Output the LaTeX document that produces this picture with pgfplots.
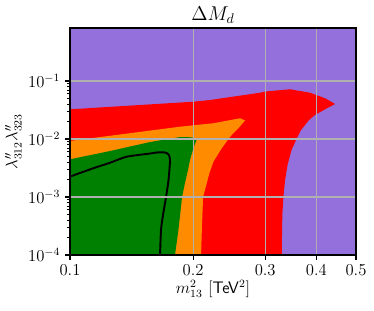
\documentclass[border=0pt]{standalone}
\usepackage{pgfplots}
\pgfplotsset{compat=1.18}
\definecolor{mpurple}{RGB}{147,112,219}
\definecolor{dorange}{RGB}{255,140,0}
\definecolor{mgreen}{RGB}{0,128,0}
\definecolor{mred}{RGB}{255,0,0}
\definecolor{gridgray}{RGB}{176,176,176}
\begin{document}
\begin{tikzpicture}[x=0.72pt,y=0.72pt]
\useasboundingbox (-70,-55) rectangle (304,255);
\begin{axis}[
 at={(0,0)}, anchor=south west,
 scale only axis, width=205.92pt, height=163.44pt,
 xmode=log, ymode=log,
 xmin=0.1, xmax=0.5, ymin=1e-4, ymax=0.82,
 axis on top,
 axis line style={line width=0.8pt},
 xtick={0.1,0.2,0.3,0.4,0.5},
 xticklabels={$0.1$,$0.2$,$0.3$,$0.4$,$0.5$},
 minor xtick={},
 ytick={1e-4,1e-3,1e-2,1e-1},
 tick pos=left, tick align=outside,
 major tick length=3.5pt, minor tick length=2pt,
 every tick/.style={black, line width=0.8pt},
 minor tick style={black, line width=0.6pt},
 grid=major,
 major grid style={gridgray, line width=0.8pt},
 tick label style={font=\fontsize{12}{14}\selectfont},
 every axis title/.style={at={(axis description cs:0.5,1)}, anchor=base, yshift=5.3pt, font=\fontsize{14.5}{17}\selectfont},
 every axis x label/.style={at={(axis description cs:0.5,-0.15)}, anchor=center, font=\fontsize{12}{14}\selectfont},
 every axis y label/.style={at={(axis description cs:-0.198,0.5)}, rotate=90, anchor=center, font=\fontsize{12}{14}\selectfont},
 title={$\Delta M_d$},
 xlabel={$m_{13}^2$ [\textsf{TeV}$^2$]},
 ylabel={$\lambda''_{312}\lambda''_{323}$},
]
\addplot[fill=mpurple, draw=none] coordinates {(0.1,1e-4) (0.5,1e-4) (0.5,0.82) (0.1,0.82)} -- cycle;
\addplot[fill=mred, draw=none] coordinates {
 (0.1,1e-4) (0.1,0.0325) (0.1998,0.0439) (0.2199,0.0470) (0.2914,0.0628) (0.2999,0.0659)
 (0.3451,0.0720) (0.3862,0.0628) (0.4202,0.0504) (0.4445,0.0401) (0.4242,0.0338)
 (0.3972,0.0260) (0.384,0.0213) (0.3671,0.0143) (0.3569,0.00962) (0.3479,0.00646)
 (0.3402,0.00357) (0.3355,0.00196) (0.3323,0.001) (0.3305,0.00053) (0.3298,0.00027) (0.3294,1e-4)} -- cycle;
\addplot[fill=dorange, draw=none] coordinates {
 (0.1,1e-4) (0.1,0.00925) (0.1857,0.0163) (0.2241,0.0187) (0.2604,0.0228) (0.2679,0.0209)
 (0.2579,0.0153) (0.2462,0.01097) (0.2349,0.00692) (0.2241,0.00406) (0.2191,0.00257)
 (0.2115,0.001) (0.2102,0.000329) (0.2091,1e-4)} -- cycle;
\addplot[fill=mgreen, draw=none] coordinates {
 (0.1,1e-4) (0.1,0.00447) (0.1253,0.00621) (0.1569,0.00887) (0.1857,0.0108) (0.1987,0.0107)
 (0.2039,0.00962) (0.2002,0.00692) (0.1965,0.00435) (0.1943,0.00292) (0.191,0.00174)
 (0.1879,0.001) (0.1841,0.00027) (0.1806,1e-4)} -- cycle;
\addplot[black, line width=1.4pt, line join=round, smooth, tension=0.4] coordinates {
 (0.1,0.00225) (0.114,0.00313) (0.1253,0.0039) (0.1376,0.00495) (0.1569,0.00562)
 (0.1644,0.0059) (0.1707,0.00585) (0.1741,0.00541) (0.1756,0.00435) (0.1741,0.00196)
 (0.1717,0.001) (0.1688,0.00049) (0.1669,0.00027) (0.166,1e-4)};
\end{axis}
\end{tikzpicture}
\end{document}
